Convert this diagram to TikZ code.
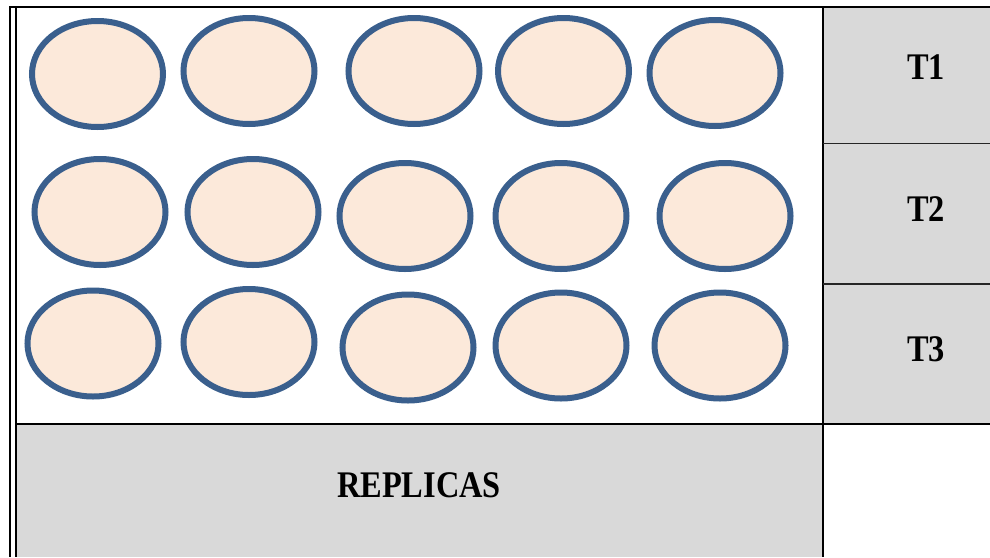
\documentclass[tikz,border=0pt]{standalone}
\usepackage{fontspec}
\setmainfont{Liberation Serif}
\usetikzlibrary{shapes.geometric}
\definecolor{peach}{HTML}{FCE9DA}
\definecolor{wellblue}{HTML}{3A5F8D}
\definecolor{cellgray}{HTML}{D9D9D9}
\tikzset{
  well/.style={ellipse, draw=wellblue, fill=peach, line width=6pt,
    minimum width=131pt, minimum height=106pt, inner sep=0pt},
  lab/.style={anchor=base, inner sep=0pt, font=\bfseries\fontsize{32.4}{36}\selectfont, yscale=1.16},
  rule/.style={black, line width=2pt},
  thinrule/.style={black!85, line width=1.2pt}
}
\begin{document}
\begin{tikzpicture}[x=1pt,y=-1pt]
\useasboundingbox (0,0) rectangle (990,557);
\fill[white] (0,0) rectangle (990,557);
% gray cells
\fill[cellgray] (823,7) rectangle (990,423);
\fill[cellgray] (16,423) rectangle (823,557);
% wells row 1
\node[well] (w1) at (97.5,74) {};
\node[well] (w2) at (249,71) {};
\node[well] (w3) at (414,71) {};
\node[well] (w4) at (563.5,71) {};
\node[well] (w5) at (715,73) {};
% row 2
\node[well] (w6) at (100,212) {};
\node[well] (w7) at (253,212) {};
\node[well] (w8) at (405,216) {};
\node[well] (w9) at (561,216) {};
\node[well] (w10) at (725,216) {};
% row 3
\node[well] (w11) at (93,343.5) {};
\node[well] (w12) at (249,342) {};
\node[well] (w13) at (408,347.5) {};
\node[well] (w14) at (561,345.5) {};
\node[well] (w15) at (720,345.5) {};
% lines
\draw[rule] (9,7) -- (990,7);
\draw[rule] (10,6) -- (10,557);
\draw[rule] (16,7) -- (16,557);
\draw[rule] (823,7) -- (823,557);
\draw[rule] (16,423.5) -- (990,423.5);
\draw[thinrule] (823,143.5) -- (990,143.5);
\draw[thinrule] (823,284) -- (990,284);
% labels
\node[lab] (t1) at (926,79) {T1};
\node[lab] (t2) at (926,221) {T2};
\node[lab] (t3) at (926,361) {T3};
\node[lab] (rep) at (419,497) {REPLICAS};
\end{tikzpicture}
\end{document}
